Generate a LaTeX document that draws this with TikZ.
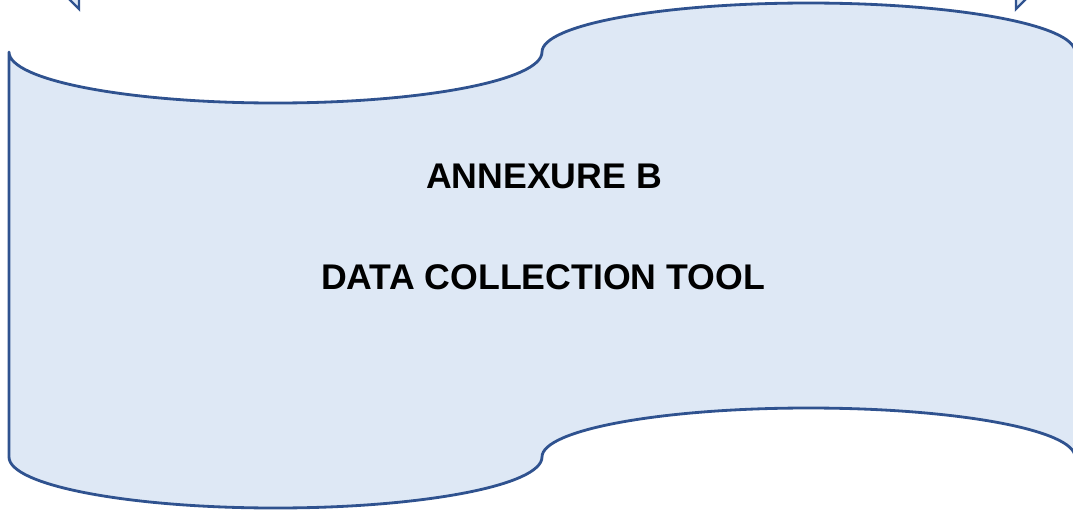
\documentclass[tikz,border=0pt]{standalone}
\usepackage{fontspec}
\setmainfont{Liberation Sans}
\definecolor{wline}{HTML}{2F528F}
\definecolor{wfill}{HTML}{DEE8F5}
\begin{document}
\begin{tikzpicture}[x=0.02cm,y=-0.02cm,
  wave/.style={draw=wline, fill=wfill, line width=1.6pt, line join=round},
  tip/.style={draw=wline, fill=wfill, line width=1.3pt, line join=miter},
  title/.style={font=\bfseries\fontsize{20.3}{24}\selectfont, anchor=base, inner sep=0pt}]
\useasboundingbox (0,0) rectangle (1073,512);
\clip (0,0) rectangle (1073,512);
% cropped arrow tips at the top
\draw[tip] (65,-5) -- (79,9) -- (79,-5) -- cycle;
\draw[tip] (1016,-5) -- (1016,9) -- (1030,-5) -- cycle;
% double wave banner
\draw[wave] (9,52)
  .. controls (9,80.2) and (128.3,103) .. (275.5,103)
  .. controls (422.7,103) and (542,80.2) .. (542,52)
  .. controls (542,24.9) and (661.3,3) .. (808.5,3)
  .. controls (955.7,3) and (1075,24.9) .. (1075,52)
  -- (1075,457)
  .. controls (1075,429.9) and (955.7,408) .. (808.5,408)
  .. controls (661.3,408) and (542,429.9) .. (542,457)
  .. controls (542,485.2) and (422.7,508) .. (275.5,508)
  .. controls (128.3,508) and (9,485.2) .. (9,457)
  -- cycle;
\node[title] (t1) at (544,188) {ANNEXURE B};
\node[title] (t2) at (543,289) {DATA COLLECTION TOOL};
\end{tikzpicture}
\end{document}
